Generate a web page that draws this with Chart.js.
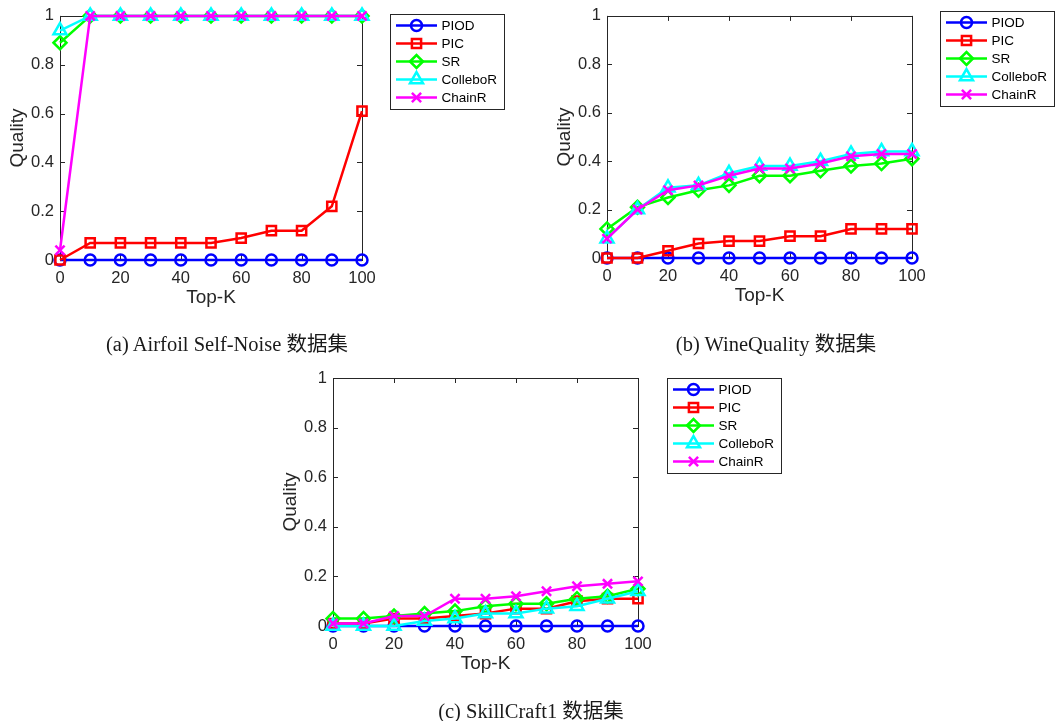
<!DOCTYPE html>
<html><head><meta charset="utf-8">
<script src="https://cdn.jsdelivr.net/npm/chart.js@4"></script>
<style>
html,body{margin:0;padding:0;background:#fff}
body{width:1056px;height:721px;overflow:hidden;position:relative}
canvas{position:absolute;left:0;top:0}
.cap{position:absolute;font-family:"Liberation Serif","Times New Roman","Noto Sans CJK SC",serif;font-size:20.5px;color:#1a1a1a;white-space:nowrap;transform:translate(-50%,-50%)}
</style></head><body>
<canvas id="ca" width="1056" height="721"></canvas>
<canvas id="cb" width="1056" height="721"></canvas>
<canvas id="cc" width="1056" height="721"></canvas>
<div class="cap" style="left:227px;top:342px">(a) Airfoil Self-Noise 数据集</div>
<div class="cap" style="left:776px;top:342px">(b) WineQuality 数据集</div>
<div class="cap" style="left:531px;top:709px">(c) SkillCraft1 数据集</div>
<script>
// ---------- data ----------
const topK = [0,10,20,30,40,50,60,70,80,90,100];
const seriesNames = ['PIOD','PIC','SR','ColleboR','ChainR'];
const xTickValues = [0,20,40,60,80,100];
const xTickLabels = ['0','20','40','60','80','100'];
const yTickValues = [0,0.2,0.4,0.6,0.8,1];
const yTickLabels = ['0','0.2','0.4','0.6','0.8','1'];
const xTitle = 'Top-K';
const yTitle = 'Quality';

const airfoilPIOD     = [0,0,0,0,0,0,0,0,0,0,0];
const airfoilPIC      = [0,0.07,0.07,0.07,0.07,0.07,0.09,0.12,0.12,0.22,0.61];
const airfoilSR       = [0.89,1,1,1,1,1,1,1,1,1,1];
const airfoilColleboR = [0.94,1,1,1,1,1,1,1,1,1,1];
const airfoilChainR   = [0.04,1,1,1,1,1,1,1,1,1,1];

const winePIOD     = [0,0,0,0,0,0,0,0,0,0,0];
const winePIC      = [0,0,0.03,0.06,0.07,0.07,0.09,0.09,0.12,0.12,0.12];
const wineSR       = [0.12,0.21,0.25,0.28,0.30,0.34,0.34,0.36,0.38,0.39,0.41];
const wineColleboR = [0.08,0.20,0.29,0.30,0.35,0.38,0.38,0.40,0.43,0.44,0.44];
const wineChainR   = [0.08,0.20,0.28,0.30,0.34,0.37,0.37,0.39,0.42,0.43,0.43];

const skillPIOD     = [0,0,0,0,0,0,0,0,0,0,0];
const skillPIC      = [0.01,0.01,0.03,0.03,0.04,0.05,0.07,0.07,0.10,0.11,0.11];
const skillSR       = [0.03,0.03,0.04,0.05,0.06,0.08,0.09,0.09,0.11,0.12,0.15];
const skillColleboR = [0,0,0,0.02,0.03,0.05,0.05,0.07,0.08,0.11,0.14];
const skillChainR   = [0.01,0.01,0.04,0.04,0.11,0.11,0.12,0.14,0.16,0.17,0.18];

// ---------- styles ----------
const seriesColors = ['#0000ff','#ff0000','#00ff00','#00ffff','#ff00ff'];
const seriesMarkers = ['circle','rect','rectRot','triangle','crossRot'];
const seriesRadius = [5.5,6.5,6.5,7.5,6.5];
const LW = 2.5;
const AXIS = '#262626';
const FONT = '"Liberation Sans", Arial, sans-serif';

function drawMarker(ctx, style, x, y, r, color){
  ctx.save();
  ctx.strokeStyle = color; ctx.lineWidth = LW;
  ctx.beginPath();
  if (style === 'circle') { ctx.arc(x,y,r,0,Math.PI*2); }
  else if (style === 'rect') { const s = r*Math.SQRT1_2; ctx.rect(x-s,y-s,2*s,2*s); }
  else if (style === 'rectRot') { ctx.moveTo(x-r,y); ctx.lineTo(x,y-r); ctx.lineTo(x+r,y); ctx.lineTo(x,y+r); ctx.closePath(); }
  else if (style === 'triangle') {
    let a = 0; ctx.moveTo(x+Math.sin(a)*r, y-Math.cos(a)*r);
    a += 2*Math.PI/3; ctx.lineTo(x+Math.sin(a)*r, y-Math.cos(a)*r);
    a += 2*Math.PI/3; ctx.lineTo(x+Math.sin(a)*r, y-Math.cos(a)*r); ctx.closePath();
  } else if (style === 'crossRot') {
    const d = r*Math.SQRT1_2; ctx.moveTo(x-d,y-d); ctx.lineTo(x+d,y+d); ctx.moveTo(x+d,y-d); ctx.lineTo(x-d,y+d);
  }
  ctx.stroke();
  ctx.restore();
}

const framePlugin = {
  id: 'frame',
  beforeDatasetsDraw(chart){
    const {ctx, chartArea: a, scales} = chart;
    ctx.save();
    ctx.strokeStyle = AXIS; ctx.lineWidth = 1;
    ctx.strokeRect(Math.round(a.left)+0.5, Math.round(a.top)+0.5, Math.round(a.right-a.left), Math.round(a.bottom-a.top));
    const L = 5;
    ctx.beginPath();
    xTickValues.forEach(v => {
      const px = Math.round(scales.x.getPixelForValue(v))+0.5;
      ctx.moveTo(px, a.bottom); ctx.lineTo(px, a.bottom-L);
      ctx.moveTo(px, a.top); ctx.lineTo(px, a.top+L);
    });
    yTickValues.forEach(v => {
      const py = Math.round(scales.y.getPixelForValue(v))+0.5;
      ctx.moveTo(a.left, py); ctx.lineTo(a.left+L, py);
      ctx.moveTo(a.right, py); ctx.lineTo(a.right-L, py);
    });
    ctx.stroke();
    ctx.restore();
  },
  afterDraw(chart){
    const lg = chart.options.plugins.frame.legend;
    const ctx = chart.ctx;
    ctx.save();
    ctx.fillStyle = '#fff';
    ctx.fillRect(lg.x, lg.y, lg.w, lg.h);
    ctx.strokeStyle = '#262626'; ctx.lineWidth = 1;
    ctx.strokeRect(lg.x+0.5, lg.y+0.5, lg.w, lg.h);
    ctx.font = '13.5px ' + FONT;
    ctx.textBaseline = 'middle'; ctx.textAlign = 'left';
    chart.data.datasets.forEach((ds, i) => {
      const y = lg.y + 11.5 + i*18;
      ctx.strokeStyle = ds.borderColor; ctx.lineWidth = LW;
      ctx.beginPath(); ctx.moveTo(lg.x+6, y); ctx.lineTo(lg.x+47, y); ctx.stroke();
      drawMarker(ctx, ds.pointStyle, lg.x+26.5, y, ds.pointRadius, ds.borderColor);
      ctx.fillStyle = '#000';
      ctx.fillText(ds.label, lg.x+51.5, y+0.5);
    });
    ctx.restore();
  }
};

function makeChart(id, values, box, legend){
  const datasets = values.map((vals, i) => ({
    label: seriesNames[i],
    data: topK.map((k, j) => ({x: k, y: vals[j]})),
    borderColor: seriesColors[i],
    backgroundColor: 'rgba(0,0,0,0)',
    borderWidth: LW,
    pointStyle: seriesMarkers[i],
    pointRadius: seriesRadius[i],
    pointBorderWidth: LW,
    pointBorderColor: seriesColors[i],
    pointBackgroundColor: 'rgba(0,0,0,0)',
    tension: 0,
    clip: false,
    order: 4 - i
  }));
  const YW = 54, XH = 49;
  return new Chart(document.getElementById(id), {
    type: 'line',
    data: { datasets },
    options: {
      responsive: false,
      animation: false,
      events: [],
      layout: { padding: { left: box.left - YW, top: box.top, right: 1056 - box.right, bottom: 721 - box.bottom - XH } },
      plugins: { legend: { display: false }, tooltip: { enabled: false }, frame: { legend } },
      scales: {
        x: {
          type: 'linear', min: 0, max: 100,
          afterFit(s){ s.height = XH; },
          afterBuildTicks(s){ s.ticks = xTickValues.map(v => ({value: v})); },
          grid: { display: false, drawTicks: false },
          border: { display: false },
          ticks: { color: AXIS, font: { family: FONT, size: 16.5 }, padding: 9, maxRotation: 0,
                   callback: (v) => xTickLabels[xTickValues.indexOf(v)] },
          title: { display: true, text: xTitle, color: AXIS, font: { family: FONT, size: 19 }, padding: 0 }
        },
        y: {
          type: 'linear', min: 0, max: 1,
          afterFit(s){ s.width = YW; },
          afterBuildTicks(s){ s.ticks = yTickValues.map(v => ({value: v})); },
          grid: { display: false, drawTicks: false },
          border: { display: false },
          ticks: { color: AXIS, font: { family: FONT, size: 16.5 }, padding: 6,
                   callback: (v) => yTickLabels[yTickValues.findIndex(t => Math.abs(t - v) < 1e-9)] },
          title: { display: true, text: yTitle, color: AXIS, font: { family: FONT, size: 19 }, padding: 0 }
        }
      }
    },
    plugins: [framePlugin]
  });
}

makeChart('ca', [airfoilPIOD, airfoilPIC, airfoilSR, airfoilColleboR, airfoilChainR],
  {left: 60, top: 14, right: 362, bottom: 260}, {x: 390, y: 14, w: 114, h: 95});
makeChart('cb', [winePIOD, winePIC, wineSR, wineColleboR, wineChainR],
  {left: 607, top: 12, right: 912, bottom: 258}, {x: 940, y: 11, w: 114, h: 95});
makeChart('cc', [skillPIOD, skillPIC, skillSR, skillColleboR, skillChainR],
  {left: 333, top: 378, right: 638, bottom: 626}, {x: 667, y: 378, w: 114, h: 95});
</script>
</body></html>
